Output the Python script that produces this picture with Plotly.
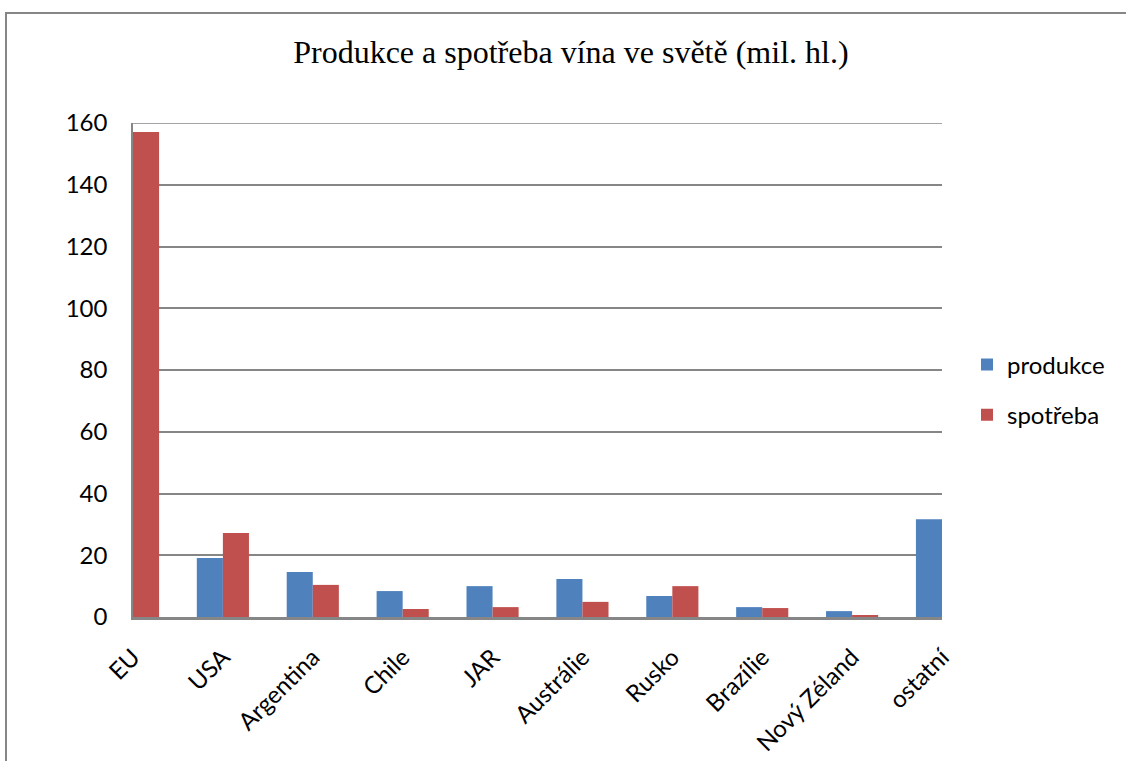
import plotly.graph_objects as go

# categories and values (mil. hl.)
zeme = ["EU", "USA", "Argentina", "Chile", "JAR", "Austrálie", "Rusko",
        "Brazílie", "Nový Zéland", "ostatní"]
produkce = [None, 19.1, 14.6, 8.4, 10.0, 12.3, 6.8, 3.2, 1.9, 31.7]
spotreba = [157.1, 27.2, 10.4, 2.6, 3.2, 4.9, 10.0, 2.9, 0.6, None]

W, H = 1126, 761
L, R, T, B = 133, 184, 123, 144
pw, ph = W - L - R, H - T - B
GRID = "#868686"

fig = go.Figure()
fig.add_trace(go.Bar(x=zeme, y=produkce, name="produkce",
                     marker=dict(color="#4F81BD", line_width=0),
                     legendgroup="a"))
fig.add_trace(go.Bar(x=zeme, y=spotreba, name="spotřeba",
                     marker=dict(color="#C0504D", line_width=0),
                     legendgroup="b"))

fig.update_layout(
    width=W, height=H,
    margin=dict(l=L, r=R, t=T, b=B, autoexpand=False),
    paper_bgcolor="white", plot_bgcolor="white",
    barmode="group", bargap=0.42, bargroupgap=0,
    font=dict(family="Lato, Open Sans, sans-serif", size=24, color="black"),
    title=dict(text="Produkce a spotřeba vína ve světě (mil. hl.)",
               font=dict(family="Liberation Serif, Times New Roman, serif",
                         size=32, color="black"),
               x=0.507, xanchor="center", y=1 - 52 / H, yanchor="middle"),
    legend=dict(x=(967 - L) / pw, xanchor="left",
                y=(H - B - 390) / ph, yanchor="middle",
                font=dict(size=24), traceorder="grouped",
                tracegroupgap=16, bgcolor="rgba(0,0,0,0)"),
    showlegend=True,
)

fig.update_xaxes(range=[0, 9], showgrid=False, showline=True,
                 linecolor=GRID, linewidth=2.5, ticks="",
                 tickangle=-45, tickfont=dict(size=24),
                 ticklabelstandoff=14)
fig.update_yaxes(range=[0, 160], dtick=20, showgrid=True,
                 gridcolor=GRID, gridwidth=1.5, showline=True,
                 linecolor=GRID, linewidth=1.5, ticks="",
                 zeroline=False, ticklabelstandoff=19,
                 tickfont=dict(size=24))

# top gridline at 160 (plotly skips the grid at the range end)
fig.add_shape(type="line", xref="paper", yref="y", x0=0, x1=1,
              y0=160, y1=160, line=dict(color=GRID, width=1.5))

# outer chart border (bottom and right edges fall outside the picture)
fig.add_shape(type="rect", xref="paper", yref="paper",
              x0=(6 - L) / pw, x1=(1140 - L) / pw,
              y0=(H - B - 790) / ph, y1=(H - B - 13) / ph,
              line=dict(color=GRID, width=2), layer="below")

fig.write_html("out.html", config={"displayModeBar": False},
               post_script="document.body.style.margin='0';")
